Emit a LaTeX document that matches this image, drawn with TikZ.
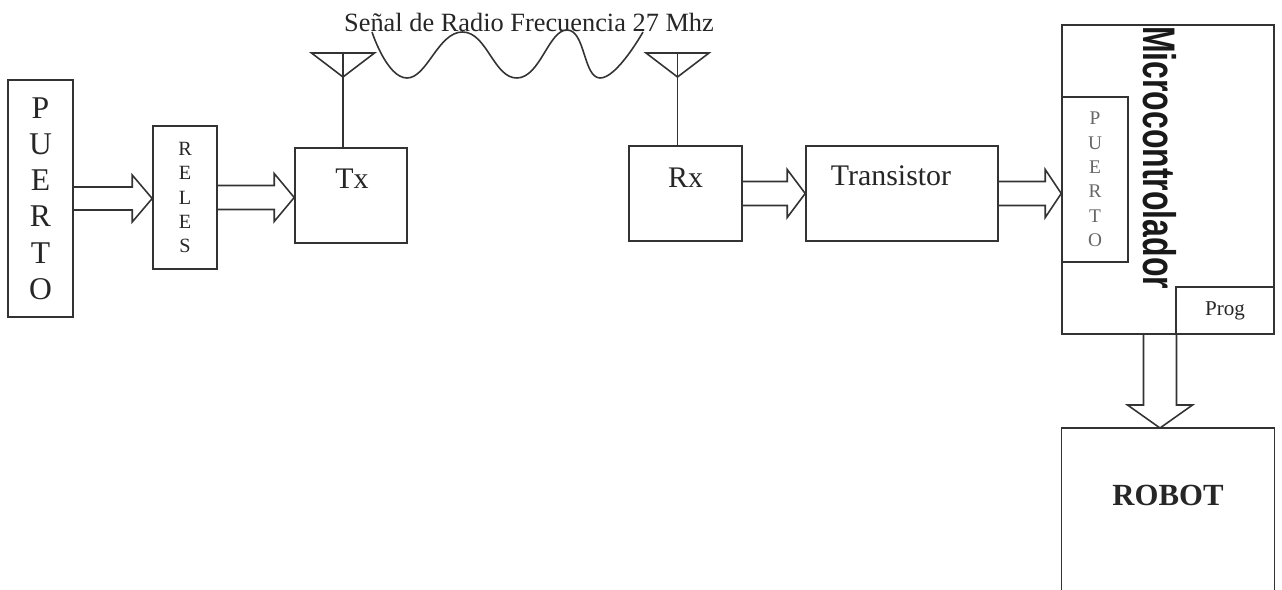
\documentclass[tikz,border=0pt]{standalone}
\usepackage{fontspec}
\setmainfont{Liberation Serif}
\newfontfamily\microfont{Liberation Sans}
\usepackage{graphicx}
\usepackage{tikz}
\usetikzlibrary{positioning,calc}
\definecolor{inkGray}{HTML}{333333}
% flecha hueca: [largo punta]{desde}{hasta}{medio ancho cuerpo}{medio ancho punta}
\newcommand{\fatarrow}[5][0.4cm]{%
  \coordinate (fa-base) at ($(#3)!#1!(#2)$);
  \draw[fatline] ($(#2)!#4!90:(#3)$) -- ($(fa-base)!#4!90:(#3)$)
    -- ($(fa-base)!#5!90:(#3)$) -- (#3) -- ($(fa-base)!#5!-90:(#3)$)
    -- ($(fa-base)!#4!-90:(#3)$) -- ($(#2)!#4!-90:(#3)$);
}
\tikzset{
  blk/.style={draw=inkGray,line width=0.9pt,inner sep=0pt,align=center,text=black!85},
  wire/.style={draw=inkGray,line width=0.9pt},
  fatline/.style={draw=inkGray,line width=0.9pt,line join=miter},
  lbl/.style={anchor=base,text=black!85,font=\fontsize{17}{20}\selectfont}
}

\begin{document}
\begin{tikzpicture}
  \useasboundingbox (0,0) rectangle (25.64,-11.78);
  % emisor
  \node[blk, minimum width=1.3cm, minimum height=4.74cm, font=\fontsize{18}{20.6}\selectfont] (puerto) at (0.81,-3.97) {P\\U\\E\\R\\T\\O};
  \node[blk, minimum width=1.28cm, minimum height=2.86cm, font=\fontsize{11.5}{13.8}\selectfont] (reles) at (3.70,-3.95) {R\\E\\L\\E\\S};
  \node[blk, minimum width=2.24cm, minimum height=1.9cm] (tx) at (7.02,-3.91) {};
  \node[lbl] (txlbl) at ($(tx.center)+(0.02,0.15)$) {Tx};

  % receptor
  \node[blk, minimum width=2.26cm, minimum height=1.9cm] (rx) at (13.71,-3.87) {};
  \node[lbl] (rxlbl) at ($(rx.center)+(0,0.13)$) {Rx};
  \node[blk, minimum width=3.84cm, minimum height=1.9cm] (trans) at (18.04,-3.87) {};
  \node[lbl] (translbl) at ($(trans.center)+(-0.22,0.17)$) {Transistor};

  % microcontrolador
  \node[blk, minimum width=4.24cm, minimum height=6.18cm] (micro) at (23.36,-3.59) {};
  \node[blk, minimum width=1.32cm, minimum height=3.3cm, anchor=west, text=black!60, font=\fontsize{11}{13.9}\selectfont] (mpuerto) at (micro.west) {P\\U\\E\\R\\T\\O};
  \node[blk, minimum width=1.96cm, minimum height=0.94cm, anchor=south east, font=\fontsize{12}{14}\selectfont] (prog) at (micro.south east) {Prog};
  \node[rotate=-90, inner sep=0pt, text=black!90, font=\microfont\bfseries\fontsize{26}{30}\selectfont] (microlbl) at ($(micro.center)+(-0.16,0.44)$) {\scalebox{0.7}[1]{Microcontrolador}};

  % robot (sigue bajo el borde)
  \node[minimum width=4.24cm, minimum height=3.22cm, anchor=north, inner sep=0pt] (robot) at (23.36,-8.56) {};
  \draw[wire] (robot.south west) -- (robot.north west) -- (robot.north east) -- (robot.south east);
  \node[lbl, font=\bfseries\fontsize{17.5}{20}\selectfont] (robotlbl) at (23.36,-10.10) {ROBOT};

  % antenas
  \foreach \b in {tx,rx} {
    \coordinate (\b ant) at ($(\b.north)+(-0.16,0)$);
    \coordinate (\b top) at (\b ant |- 0,-1.06);
    \draw[wire] (\b ant) -- (\b top);
    \draw[wire, line join=miter] ($(\b top)+(-0.63,0)$) -- ($(\b top)+(0.63,0)$) -- ($(\b top)+(0,-0.48)$) -- cycle;
  }

  % senal de radio
  \node[anchor=base, inner sep=0pt, text=black!85, font=\fontsize{15}{18}\selectfont] (rf) at (10.58,-0.64) {Señal de Radio Frecuencia 27 Mhz};
  \draw[wire] plot[smooth, tension=0.8] coordinates {(7.44,-0.64) (8.14,-1.56) (9.25,-0.64) (10.34,-1.56) (11.34,-0.60) (12.0,-1.56) (12.86,-0.64)};

  % flechas
  \coordinate (a1) at (puerto.east -| reles.west);
  \coordinate (a2) at (reles.east -| tx.west);
  \coordinate (a3) at (rx.east -| trans.west);
  \coordinate (a4) at (trans.east -| micro.west);
  \coordinate (a5s) at ($(micro.south)+(-0.16,0)$);
  \coordinate (a5) at (a5s |- robot.north);
  \fatarrow{puerto.east}{a1}{0.23cm}{0.47cm}
  \fatarrow{reles.east}{a2}{0.24cm}{0.48cm}
  \fatarrow[0.36cm]{rx.east}{a3}{0.24cm}{0.48cm}
  \fatarrow[0.32cm]{trans.east}{a4}{0.24cm}{0.48cm}
  \fatarrow[0.46cm]{a5s}{a5}{0.33cm}{0.65cm}
\end{tikzpicture}
\end{document}
